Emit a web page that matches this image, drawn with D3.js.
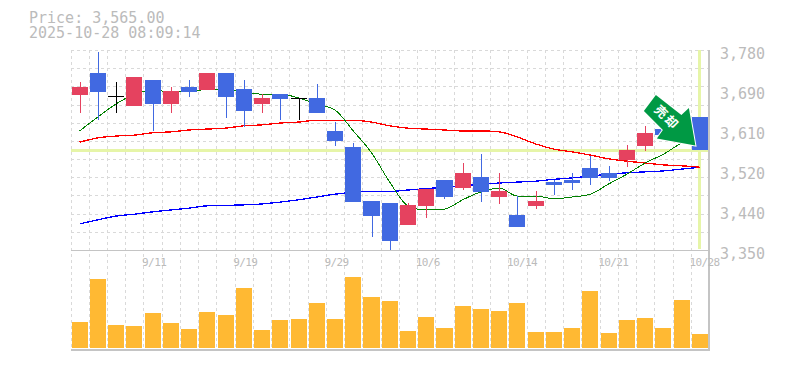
<!DOCTYPE html>
<html lang="en">

<head>
  <meta charset="UTF-8">
  <title>Price chart</title>
  <script src="https://cdn.jsdelivr.net/npm/d3@7"></script>
  <style>
    html, body {
      margin: 0;
      background: #fff;
    }

    text {
      font-family: "DejaVu Sans Mono", "Liberation Mono", monospace;
      fill: #bbb;
    }

    .crisp {
      shape-rendering: crispEdges;
    }

    .gray-text {
      opacity: 0.999;
    }
  </style>
</head>

<body>
  <div id="my_dataviz"></div>
  <script>
    const dates = ['9/5', '9/8', '9/9', '9/10', '9/11', '9/12', '9/16', '9/17', '9/18', '9/19', '9/22', '9/24', '9/25', '9/26', '9/29',
      '9/30', '10/1', '10/2', '10/3', '10/6', '10/7', '10/8', '10/9', '10/10', '10/14', '10/15', '10/16', '10/17', '10/20', '10/21',
      '10/22', '10/23', '10/24', '10/27', '10/28']
    const dateTicks = ['9/11', '9/19', '9/29', '10/6', '10/14', '10/21', '10/28']

    const opens = [3683, 3730.5, 3680.5, 3660, 3715.5, 3664, 3700.5, 3694, 3730.5, 3696, 3664, 3685.4, 3676.5, 3677, 3606,
      3571.5, 3455.4, 3451, 3403.8, 3444.6, 3500.5, 3483.3, 3507, 3464, 3425.3, 3444.6, 3496.2, 3500.5, 3526.3, 3515.6,
      3543.5, 3573.6, 3610.2, 3580, 3636]
    const closes = [3700.5, 3690, 3680.5, 3722, 3664, 3692, 3690, 3730.5, 3679, 3649, 3677, 3675, 3676.5, 3644.5, 3584.5,
      3453.2, 3423.1, 3369.4, 3446.8, 3481.2, 3464, 3515.6, 3474.7, 3476.9, 3399.5, 3455.4, 3489.8, 3494, 3504.8, 3504.8,
      3565, 3601.5, 3597, 3625, 3565]
    const highs = [3711, 3775.7, 3711, 3722, 3715.5, 3700.5, 3715.5, 3730.5, 3730.5, 3715.5, 3685.4, 3685.4, 3676.5, 3707, 3625.2,
      3580, 3455.4, 3451, 3451, 3481.2, 3500.5, 3537, 3556.4, 3515.6, 3466.1, 3476.9, 3500.5, 3515.6, 3552.1, 3530.6,
      3575.8, 3616.6, 3610.2, 3625, 3636]
    const lows = [3644.5, 3629.5, 3644.5, 3660, 3606, 3644.5, 3679, 3694, 3634, 3614.5, 3644.5, 3629.5, 3629.5, 3644.5, 3573.6,
      3453.2, 3378, 3350, 3403.8, 3418.8, 3459.7, 3479, 3453.2, 3448.9, 3399.5, 3438.2, 3468.2, 3479, 3489.8, 3498.4,
      3528.4, 3563, 3597, 3580, 3565]
    const volumes = [26, 69, 23, 22, 35, 25, 19, 36, 33, 60, 18, 28, 29, 45, 29, 71, 51, 47, 17, 31, 20, 42, 39, 37, 45, 16, 16, 20, 57, 15, 28, 30, 20, 48, 14]

    const maShort = [3606, 3636, 3664, 3685, 3694, 3690, 3690, 3696, 3696, 3690, 3685, 3685, 3677, 3664, 3651,
      3606, 3559, 3496, 3445, 3436, 3438, 3458, 3475, 3483, 3466, 3466, 3460, 3464, 3470, 3492,
      3513, 3537, 3556, 3580, 3597]
    const maMid = [3582, 3591, 3595, 3597, 3602, 3604, 3608, 3610, 3612, 3617, 3619, 3623, 3625, 3629, 3629,
      3629, 3625, 3617, 3612, 3610, 3608, 3606, 3606, 3604, 3593, 3578, 3567, 3561, 3554, 3546,
      3541, 3537, 3533, 3531, 3528]
    const maLong = [3406, 3415, 3423, 3427, 3432, 3436, 3440, 3445, 3446, 3447, 3449, 3453, 3458, 3464, 3470,
      3474, 3476, 3476, 3479, 3482, 3485, 3488, 3491, 3494, 3496, 3498, 3502, 3505, 3509, 3513,
      3516, 3518, 3520, 3524, 3528]

    const priceTicks = [3780, 3694, 3608, 3522, 3436, 3350]
    const priceTickLabels = ['3,780', '3,690', '3,610', '3,520', '3,440', '3,350']
    const lastPrice = 3565
    const lastDate = '10/28'
    const arrowLabel = '売却'

    const width = 785
    const height = 370
    const left = 70.5
    const right = 709

    const svg = d3.select('#my_dataviz')
      .append('svg')
      .attr('width', width)
      .attr('height', height)
      .style('display', 'block')

    const xScale = d3.scaleBand()
      .domain(dates)
      .range([left, right])
      .paddingInner(0.12)
      .paddingOuter(0.06)
    const center = d => xScale(d) + xScale.bandwidth() / 2

    const yScale = d3.scaleLinear().domain([3350, 3780]).range([250, 50])
    const volScale = d3.scaleLinear().domain([0, 71]).range([348, 277])

    // dashed grid, 35 columns and 11 rows
    const grid = svg.append('g').attr('class', 'crisp')
      .attr('stroke', '#d9d9d9')
      .attr('stroke-dasharray', '3,3')
    d3.range(dates.length).forEach(i => {
      const gx = Math.round(left + xScale.step() * i) + 0.5
      grid.append('line').attr('x1', gx).attr('x2', gx).attr('y1', 50).attr('y2', 350)
    })
    d3.range(11).forEach(i => {
      const gy = Math.round(yScale(3780 - i * 430 / 11)) + 0.5
      grid.append('line').attr('x1', left).attr('x2', right).attr('y1', gy).attr('y2', gy)
    })

    // current price / current date markers
    svg.append('line').attr('class', 'crisp')
      .attr('x1', left).attr('x2', right)
      .attr('y1', yScale(lastPrice) + 0.5).attr('y2', yScale(lastPrice) + 0.5)
      .attr('stroke', '#e6f5a8').attr('stroke-width', 3)
    svg.append('line').attr('class', 'crisp')
      .attr('x1', center(lastDate)).attr('x2', center(lastDate))
      .attr('y1', 50).attr('y2', 249)
      .attr('stroke', '#e6f5a8').attr('stroke-width', 3)

    // moving averages
    const maLine = d3.line()
      .x((d, i) => center(dates[i]))
      .y(d => yScale(d))
      .curve(d3.curveMonotoneX)
    const lines = [[maLong, '#0000ff', 1.3], [maMid, '#ff0000', 1.3], [maShort, '#008000', 1]]
    lines.forEach(l => {
      svg.append('path')
        .attr('class', 'crisp')
        .attr('d', maLine(l[0]))
        .attr('fill', 'none')
        .attr('stroke', l[1])
        .attr('stroke-width', l[2])
    })

    // candles
    const candleColor = i => closes[i] > opens[i] ? '#e5425f' : closes[i] < opens[i] ? '#4169e1' : '#000'
    const candles = svg.append('g').attr('class', 'crisp')
    dates.forEach((d, i) => {
      const cx = Math.round(center(d))
      candles.append('line')
        .attr('x1', cx).attr('x2', cx)
        .attr('y1', yScale(highs[i])).attr('y2', yScale(lows[i]))
        .attr('stroke', candleColor(i))
        .attr('stroke-width', 1)
      if (opens[i] === closes[i]) {
        candles.append('line')
          .attr('x1', xScale(d)).attr('x2', xScale(d) + xScale.bandwidth())
          .attr('y1', yScale(opens[i])).attr('y2', yScale(opens[i]))
          .attr('stroke', candleColor(i))
      } else {
        candles.append('rect')
          .attr('x', xScale(d))
          .attr('width', xScale.bandwidth())
          .attr('y', yScale(Math.max(opens[i], closes[i])))
          .attr('height', Math.abs(yScale(opens[i]) - yScale(closes[i])))
          .attr('fill', candleColor(i))
      }
    })

    // volume
    svg.append('g').attr('class', 'crisp')
      .selectAll('rect')
      .data(volumes)
      .enter()
      .append('rect')
      .attr('x', (d, i) => xScale(dates[i]))
      .attr('width', xScale.bandwidth())
      .attr('y', d => volScale(d))
      .attr('height', d => volScale(0) - volScale(d))
      .attr('fill', '#ffb933')

    // frame
    const frame = svg.append('g').attr('class', 'crisp').attr('stroke', '#c4c4c4')
    frame.append('line').attr('x1', left).attr('x2', right).attr('y1', 250.5).attr('y2', 250.5)
    frame.append('line').attr('x1', left).attr('x2', right).attr('y1', 350).attr('y2', 350).attr('stroke-width', 2)
    frame.append('line').attr('x1', right).attr('x2', right).attr('y1', 50).attr('y2', 351).attr('stroke-width', 1.5)

    // price labels
    const yAxis = d3.axisRight(yScale)
      .tickValues(priceTicks)
      .tickSize(0)
      .tickPadding(0)
      .tickFormat((d, i) => priceTickLabels[i])
    const yG = svg.append('g')
      .attr('class', 'gray-text')
      .attr('transform', 'translate(720, 0)')
      .call(yAxis)
    yG.select('.domain').remove()
    yG.attr('font-family', null)
    yG.selectAll('text')
      .attr('dy', null)
      .attr('y', 8)
      .style('font-size', '15px')

    // date labels
    const xAxis = d3.axisBottom(xScale)
      .tickValues(dateTicks)
      .tickSize(0)
      .tickPadding(0)
    const xG = svg.append('g')
      .attr('class', 'gray-text')
      .attr('transform', 'translate(0, 250)')
      .call(xAxis)
    xG.select('.domain').remove()
    xG.attr('font-family', null)
    xG.selectAll('text')
      .attr('dy', null)
      .attr('y', 16)
      .attr('x', -10.5)
      .attr('text-anchor', 'start')
      .style('font-size', '11px')
      .style('letter-spacing', '-0.6px')

    // header
    const header = svg.append('g').attr('class', 'gray-text').style('font-size', '15px')
    header.append('text').attr('x', 29).attr('y', 23).text('Price: 3,565.00')
    header.append('text').attr('x', 29).attr('y', 38).text('2025-10-28 08:09:14')

    // arrow pinned to the last candle
    const arrow = svg.append('g')
      .attr('transform', `translate(${center(lastDate) - 4.5}, ${yScale(lastPrice) - 4.5})`)
    arrow.append('path')
      .attr('d', 'M-39.5,-50.5L-51.5,-34.5L-32.5,-15.5L-38.5,-7L0,0L-6.5,-37.5L-14,-30.5Z')
      .attr('fill', '#009944')
      .attr('stroke', '#fff')
      .attr('stroke-width', 2)
      .attr('paint-order', 'stroke')
    arrow.append('text')
      .attr('transform', 'translate(-28.5, -28) rotate(45)')
      .attr('text-anchor', 'middle')
      .attr('dy', '0.36em')
      .style('font-family', '"Noto Sans CJK JP"')
      .style('font-weight', 'bold')
      .style('font-size', '12.5px')
      .style('letter-spacing', '2px')
      .style('fill', '#fff')
      .text(arrowLabel)
  </script>
</body>

</html>
